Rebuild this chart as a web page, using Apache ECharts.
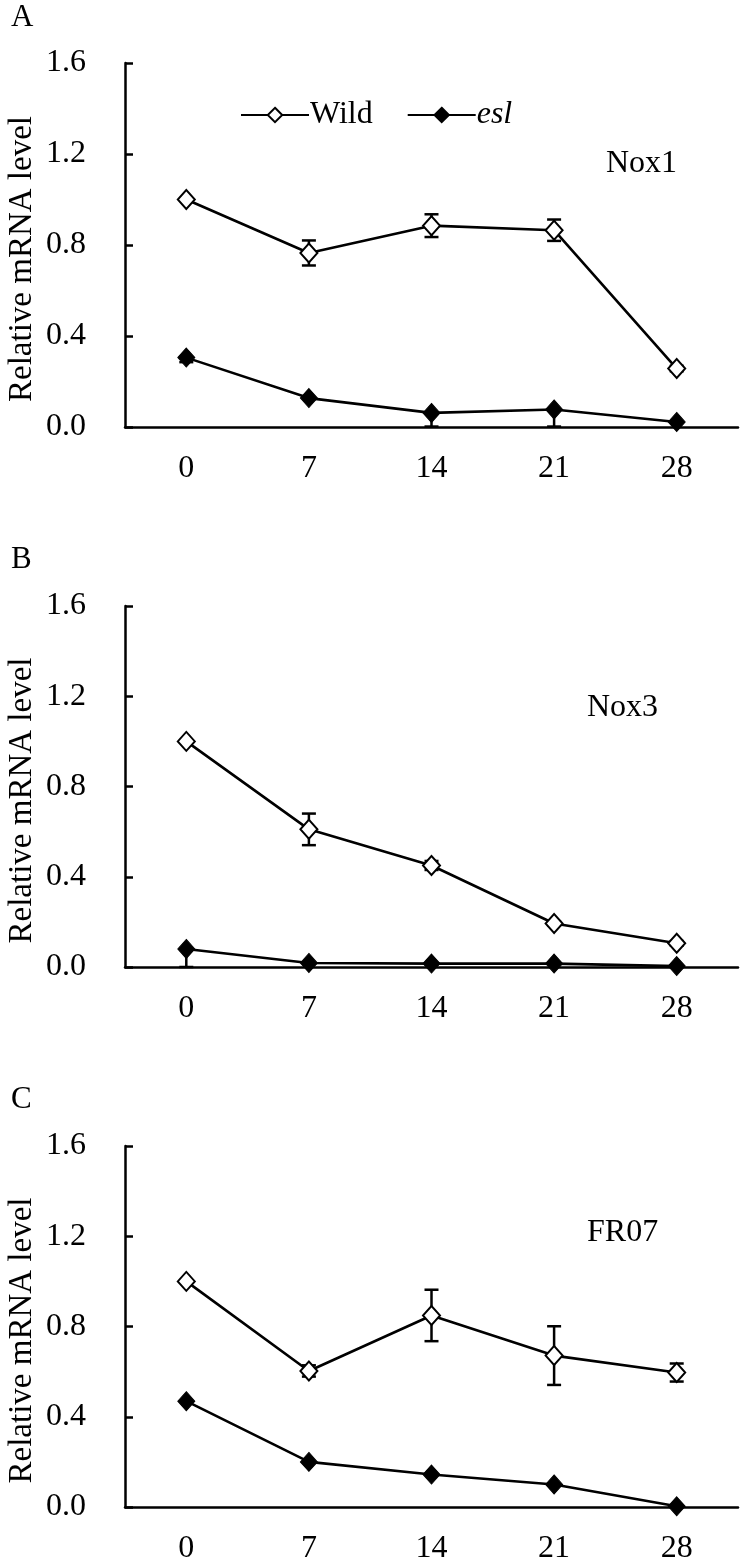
<!DOCTYPE html>
<html>
<head>
<meta charset="utf-8">
<script src="https://cdn.jsdelivr.net/npm/echarts@6/dist/echarts.min.js"></script>
<style>
html,body{margin:0;padding:0;background:#fff;}
#chart{width:740px;height:1567px;}
</style>
</head>
<body>
<div id="chart"></div>
<script>
var categories = ['0', '7', '14', '21', '28'];
var yTicks = [0, 0.4, 0.8, 1.2, 1.6];

var nox1Wild = [1.0, 0.765, 0.885, 0.865, 0.257];
var nox1WildErr = [0.0, 0.055, 0.05, 0.047, 0.012];
var nox1Esl = [0.305, 0.127, 0.062, 0.077, 0.022];
var nox1EslErr = [0.02, 0.0, 0.06, 0.075, 0.0];

var nox3Wild = [1.0, 0.61, 0.45, 0.193, 0.105];
var nox3WildErr = [0.0, 0.07, 0.02, 0.01, 0.01];
var nox3Esl = [0.08, 0.018, 0.015, 0.015, 0.004];
var nox3EslErr = [0.08, 0.0, 0.0, 0.0, 0.0];

var fr07Wild = [1.0, 0.603, 0.849, 0.671, 0.596];
var fr07WildErr = [0.0, 0.025, 0.114, 0.13, 0.04];
var fr07Esl = [0.469, 0.2, 0.144, 0.1, 0.003];
var fr07EslErr = [0.0, 0.0, 0.0, 0.0, 0.0];

var panels = [
  {letter: 'A', gene: 'Nox1', wild: nox1Wild, wildErr: nox1WildErr, esl: nox1Esl, eslErr: nox1EslErr},
  {letter: 'B', gene: 'Nox3', wild: nox3Wild, wildErr: nox3WildErr, esl: nox3Esl, eslErr: nox3EslErr},
  {letter: 'C', gene: 'FR07', wild: fr07Wild, wildErr: fr07WildErr, esl: fr07Esl, eslErr: fr07EslErr}
];

var FONT = '"Liberation Serif", "Times New Roman", serif';
var FS = 32;
var gridTops = [63, 606, 1146];
var gridHeights = [364, 361, 361];
var letterTops = [2, 544, 1084];
var geneLayout = [{left: 606, top: 148}, {left: 587, top: 692}, {left: 587, top: 1217}];

function errItem(mode) {
  return function (params, api) {
    var idx = api.value(0);
    var v = api.value(1);
    var e = api.value(2);
    if (!e) return null;
    var hi = mode === 'minus' ? v : v + e;
    var lo = v - e;
    var pHi = api.coord([idx, hi]);
    var pLo = api.coord([idx, lo]);
    var cw = 7;
    var st = {stroke: '#000', lineWidth: 2.5};
    var children = [
      {type: 'line', shape: {x1: pHi[0], y1: pHi[1], x2: pLo[0], y2: pLo[1]}, style: st},
      {type: 'line', shape: {x1: pLo[0] - cw, y1: pLo[1], x2: pLo[0] + cw, y2: pLo[1]}, style: st}
    ];
    if (mode !== 'minus') {
      children.push({type: 'line', shape: {x1: pHi[0] - cw, y1: pHi[1], x2: pHi[0] + cw, y2: pHi[1]}, style: st});
    }
    return {type: 'group', children: children};
  };
}

var grids = [], xAxes = [], yAxes = [], series = [], titles = [];
panels.forEach(function (p, i) {
  grids.push({left: 125, top: gridTops[i], width: 613, height: gridHeights[i],
    containLabel: false, outerBoundsMode: 'none'});
  xAxes.push({
    type: 'category', gridIndex: i, data: categories, boundaryGap: true,
    axisLine: {lineStyle: {color: '#000', width: 2.5}},
    axisTick: {inside: true, alignWithLabel: true, length: 8, lineStyle: {color: '#000', width: 2.5}},
    axisLabel: {color: '#000', fontFamily: FONT, fontSize: FS, margin: 26}
  });
  yAxes.push({
    type: 'value', gridIndex: i, min: yTicks[0], max: yTicks[yTicks.length - 1], interval: 0.4,
    name: 'Relative mRNA level', nameLocation: 'middle', nameGap: 86, nameRotate: 90,
    nameMoveOverlap: false,
    nameTextStyle: {color: '#000', fontFamily: FONT, fontSize: 33, padding: [0, 28, 0, 0]},
    axisLine: {show: true, lineStyle: {color: '#000', width: 2.5}},
    axisTick: {show: true, inside: true, length: 8, lineStyle: {color: '#000', width: 2.5}},
    splitLine: {show: false},
    axisLabel: {color: '#000', fontFamily: FONT, fontSize: FS, margin: 39,
      formatter: function (v) { return v.toFixed(1); }}
  });
  series.push({
    type: 'custom', xAxisIndex: i, yAxisIndex: i, z: 1, silent: true,
    renderItem: errItem('both'),
    data: p.wild.map(function (v, k) { return [k, v, p.wildErr[k]]; })
  });
  series.push({
    type: 'custom', xAxisIndex: i, yAxisIndex: i, z: 1, silent: true,
    renderItem: errItem('minus'),
    data: p.esl.map(function (v, k) { return [k, v, p.eslErr[k]]; })
  });
  series.push({
    name: 'Wild', type: 'line', xAxisIndex: i, yAxisIndex: i, z: 3,
    data: p.wild, symbol: 'diamond', symbolSize: [17, 19], showAllSymbol: true,
    lineStyle: {color: '#000', width: 2.6},
    itemStyle: {color: '#fff', borderColor: '#000', borderWidth: 2},
    animation: false
  });
  series.push({
    name: 'esl', type: 'line', xAxisIndex: i, yAxisIndex: i, z: 4,
    data: p.esl, symbol: 'diamond', symbolSize: [17, 19], showAllSymbol: true,
    lineStyle: {color: '#000', width: 2.6},
    itemStyle: {color: '#000', borderColor: '#000', borderWidth: 1},
    animation: false
  });
  titles.push({text: p.letter, left: 11, top: letterTops[i], padding: 0,
    textStyle: {fontFamily: FONT, fontSize: 31, fontWeight: 'normal', color: '#000'}});
  titles.push({text: p.gene, left: geneLayout[i].left, top: geneLayout[i].top, padding: 0,
    textStyle: {fontFamily: FONT, fontSize: FS, fontWeight: 'normal', color: '#000'}});
});

var chart = echarts.init(document.getElementById('chart'), null, {renderer: 'canvas', width: 740, height: 1567});
chart.setOption({
  animation: false,
  backgroundColor: '#fff',
  title: titles,
  legend: {
    data: ['Wild', 'esl'], left: 240, top: 99, itemWidth: 68, itemHeight: 18, itemGap: 34,
    selectedMode: false, padding: 0,
    textStyle: {fontFamily: FONT, fontSize: FS, color: '#000', padding: [0, 0, 0, -4],
      rich: {i: {fontFamily: FONT, fontSize: FS, fontStyle: 'italic', color: '#000'}}},
    formatter: function (n) { return n === 'esl' ? '{i|esl}' : n; }
  },
  grid: grids,
  xAxis: xAxes,
  yAxis: yAxes,
  series: series
});
</script>
</body>
</html>
